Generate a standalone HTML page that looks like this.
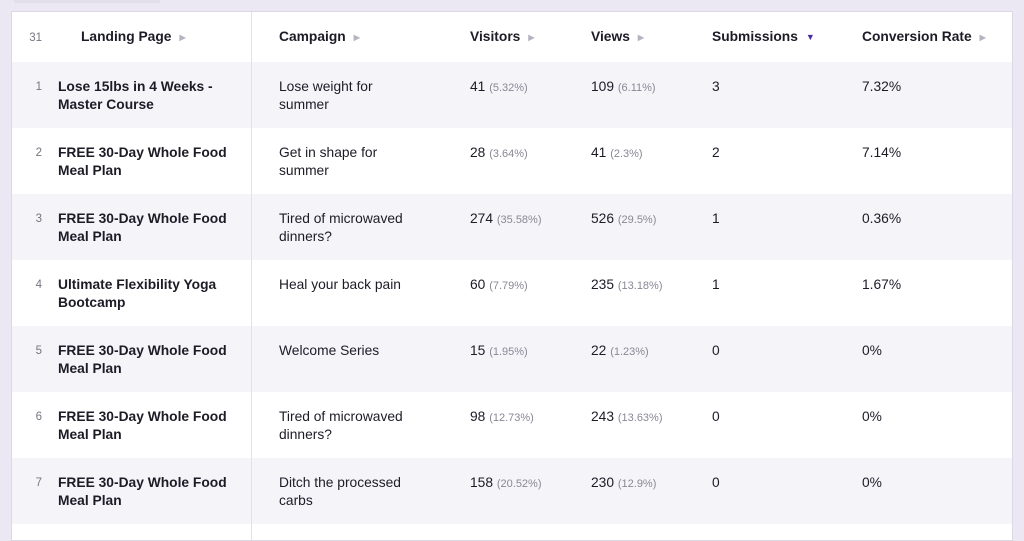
<!DOCTYPE html>
<html><head><meta charset="utf-8">
<style>
body{margin:0;width:1024px;height:526px;overflow:hidden;background:#ebe8f3;font-family:"Liberation Sans",sans-serif;color:#1d1b26;}
.tab{position:absolute;left:14px;top:0;width:146px;height:3px;background:#e2dfea;}
.card{position:absolute;left:11px;top:11px;width:1002px;height:530px;background:#fff;border:1px solid #dcd9e6;box-sizing:border-box;}
.hdr{position:absolute;left:0;top:0;width:100%;height:50px;border-bottom:1px solid #dcd9e6;}
.row{position:absolute;left:0;width:100%;height:66px;}
.row.odd{background:#f5f4f9;}
.vdiv{position:absolute;left:239px;top:0;width:1px;height:100%;background:#e3e0ea;}
.c{position:absolute;font-size:13.8px;line-height:18px;}
.h{font-weight:bold;top:16px;}
.arr{color:#b7b4c2;font-size:8px;margin-left:8px;vertical-align:1px;}
.idx{color:#77747f;font-size:11.5px;text-align:right;width:22px;left:8px;}
.b{font-weight:bold;}
.p{color:#8a8794;font-size:11px;}
</style></head><body>
<div class="tab"></div>
<div class="card">
<div class="hdr">
<span class="c h idx" style="font-weight:normal;top:17px">31</span>
<span class="c h" style="left:69px">Landing Page<span class="arr">▶</span></span>
<span class="c h" style="left:267px">Campaign<span class="arr">▶</span></span>
<span class="c h" style="left:458px">Visitors<span class="arr">▶</span></span>
<span class="c h" style="left:579px">Views<span class="arr">▶</span></span>
<span class="c h" style="left:700px">Submissions<span class="arr" style="color:#4b2aa8;font-size:9px">▼</span></span>
<span class="c h" style="left:850px">Conversion Rate<span class="arr">▶</span></span>
</div>
<div id="rows"></div>
<div class="vdiv"></div>
</div>
<script>
const pages=["Lose 15lbs in 4 Weeks -<br>Master Course","FREE 30-Day Whole Food<br>Meal Plan","FREE 30-Day Whole Food<br>Meal Plan","Ultimate Flexibility Yoga<br>Bootcamp","FREE 30-Day Whole Food<br>Meal Plan","FREE 30-Day Whole Food<br>Meal Plan","FREE 30-Day Whole Food<br>Meal Plan"];
const campaigns=["Lose weight for<br>summer","Get in shape for<br>summer","Tired of microwaved<br>dinners?","Heal your back pain","Welcome Series","Tired of microwaved<br>dinners?","Ditch the processed<br>carbs"];
const visitors=["41","28","274","60","15","98","158"];
const visitorPct=["5.32%","3.64%","35.58%","7.79%","1.95%","12.73%","20.52%"];
const views=["109","41","526","235","22","243","230"];
const viewPct=["6.11%","2.3%","29.5%","13.18%","1.23%","13.63%","12.9%"];
const submissions=["3","2","1","1","0","0","0"];
const rates=["7.32%","7.14%","0.36%","1.67%","0%","0%","0%"];
const host=document.getElementById('rows');
pages.forEach((p,i)=>{
 const r=document.createElement('div');
 r.className='row'+(i%2===0?' odd':'');
 r.style.top=(50+i*66)+'px';
 
 
 const t=16;
 r.innerHTML=
 `<span class="c idx" style="top:${t}px">${i+1}</span>`+
 `<span class="c b" style="left:46px;top:${t}px">${p}</span>`+
 `<span class="c" style="left:267px;top:${t}px">${campaigns[i]}</span>`+
 `<span class="c" style="left:458px;top:${t}px">${visitors[i]} <span class="p">(${visitorPct[i]})</span></span>`+
 `<span class="c" style="left:579px;top:${t}px">${views[i]} <span class="p">(${viewPct[i]})</span></span>`+
 `<span class="c" style="left:700px;top:${t}px">${submissions[i]}</span>`+
 `<span class="c" style="left:850px;top:${t}px">${rates[i]}</span>`;
 host.appendChild(r);
});
</script>
</body></html>
